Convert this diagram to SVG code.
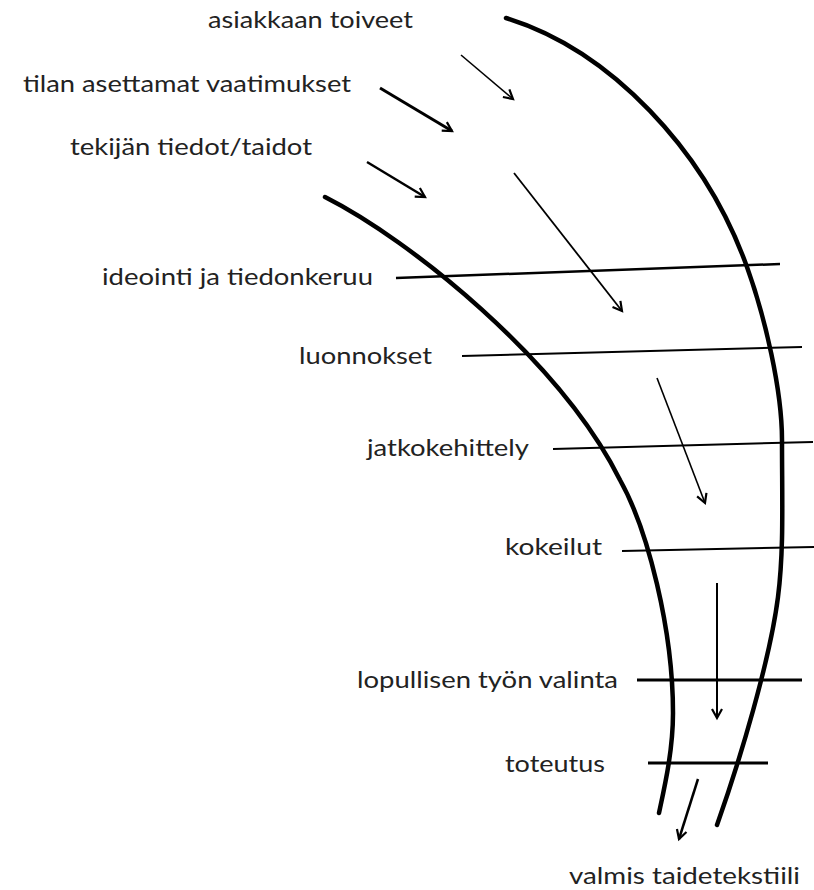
<svg xmlns="http://www.w3.org/2000/svg" width="814" height="890" viewBox="0 0 814 890">
<style>
  text { font-family: Lato, "Open Sans", "Liberation Sans", sans-serif; font-size: 23px; fill: #222; }
  .curve { fill: none; stroke: #000; stroke-linecap: round; }
  .bar { stroke: #000; fill: none; }
  .arr { stroke: #000; fill: none; marker-end: url(#ah); }
</style>
<defs>
  <marker id="ah" markerWidth="14" markerHeight="14" refX="10" refY="6" orient="auto" markerUnits="userSpaceOnUse" viewBox="0 0 14 12">
    <path d="M1 1 L10 6 L1 11" fill="none" stroke="#000" stroke-width="2.2"/>
  </marker>
</defs>
<rect width="814" height="890" fill="#fff"/>
<g id="shapes">
  <path id="outer-curve" class="curve" stroke-width="4.5" d="M506 18 C610 50 705 150 747 267 C765 317 782 390 782 440 C782 500 784 550 778 597 C770 660 740 760 717 825"/>
  <path id="inner-curve" class="curve" stroke-width="4.5" d="M325 197 C410 240 560 360 620 480 C648 530 673 630 673 713 C673 750 665 785 659 813"/>
</g>
<g id="connectors">
  <line class="bar" x1="396" y1="278" x2="780" y2="264" stroke-width="2.5"/>
  <line class="bar" x1="462" y1="356" x2="802" y2="347" stroke-width="2"/>
  <line class="bar" x1="553" y1="449" x2="813" y2="442" stroke-width="2"/>
  <line class="bar" x1="622" y1="551" x2="814" y2="547" stroke-width="2"/>
  <line class="bar" x1="637" y1="680" x2="802" y2="680" stroke-width="3"/>
  <line class="bar" x1="648" y1="763" x2="768" y2="763" stroke-width="3"/>
  <line class="arr" x1="461" y1="55" x2="513" y2="99" stroke-width="1.6"/>
  <line class="arr" x1="380" y1="88" x2="452" y2="131" stroke-width="3"/>
  <line class="arr" x1="367" y1="162" x2="425" y2="197" stroke-width="2.5"/>
  <line class="arr" x1="514" y1="173" x2="622" y2="311" stroke-width="1.8"/>
  <line class="arr" x1="657" y1="378" x2="705" y2="503" stroke-width="1.6"/>
  <line class="arr" x1="717" y1="583" x2="717" y2="718" stroke-width="2"/>
  <line class="arr" x1="698" y1="779" x2="679" y2="839" stroke-width="2.5"/>
</g>
<g id="n-asiakkaan"><text x="208" y="28" textLength="205" lengthAdjust="spacingAndGlyphs">asiakkaan toiveet</text></g>
<g id="n-tilan"><text x="23" y="92" textLength="328" lengthAdjust="spacingAndGlyphs">tilan asettamat vaatimukset</text></g>
<g id="n-tekijan"><text x="70" y="155" textLength="242" lengthAdjust="spacingAndGlyphs">tekijän tiedot/taidot</text></g>
<g id="n-ideointi"><text x="102" y="285" textLength="271" lengthAdjust="spacingAndGlyphs">ideointi ja tiedonkeruu</text></g>
<g id="n-luonnokset"><text x="299" y="364" textLength="133" lengthAdjust="spacingAndGlyphs">luonnokset</text></g>
<g id="n-jatkokehittely"><text x="367" y="456" textLength="162" lengthAdjust="spacingAndGlyphs">jatkokehittely</text></g>
<g id="n-kokeilut"><text x="505" y="555" textLength="97" lengthAdjust="spacingAndGlyphs">kokeilut</text></g>
<g id="n-lopullisen"><text x="357" y="688" textLength="261" lengthAdjust="spacingAndGlyphs">lopullisen työn valinta</text></g>
<g id="n-toteutus"><text x="505" y="772" textLength="100" lengthAdjust="spacingAndGlyphs">toteutus</text></g>
<g id="n-valmis"><text x="569" y="884" textLength="231" lengthAdjust="spacingAndGlyphs">valmis taidetekstiili</text></g>
</svg>
